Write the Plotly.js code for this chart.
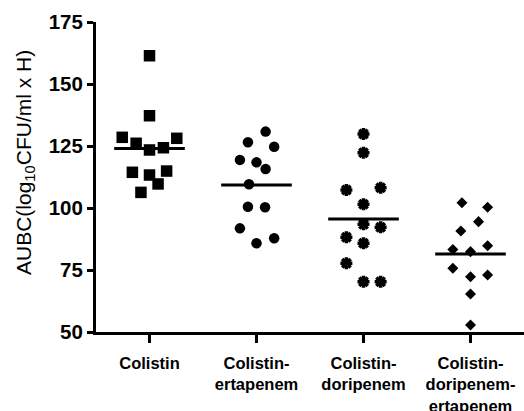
<!DOCTYPE html>
<html>
<head>
<meta charset="utf-8">
<script src="https://cdn.plot.ly/plotly-3.0.1.min.js"></script>
<style>html,body{margin:0;padding:0;background:#fff;}#chart{width:524px;height:411px;}</style>
</head>
<body>
<div id="chart"></div>
<script>
// Categories and tick labels
var categories = ["Colistin", "Colistin-ertapenem", "Colistin-doripenem", "Colistin-doripenem-ertapenem"];
var tickLabels = ["Colistin", "Colistin-<br>ertapenem", "Colistin-<br>doripenem", "Colistin-<br>doripenem-<br>ertapenem"];
var yTickValues = [50, 75, 100, 125, 150, 175];

// AUBC values per group (log10 CFU/ml x H)
var colistin = [161.4, 137.2, 128.5, 126.1, 123.4, 124.3, 128.1, 114.4, 113.3, 114.9, 109.7, 106.3];
var colistinErtapenem = [130.8, 126.5, 124.7, 119.4, 118.4, 115.7, 109.6, 100.5, 100.3, 91.8, 85.8, 87.8];
var colistinDoripenem = [129.8, 122.3, 107.3, 108.2, 101.5, 93.4, 92.2, 88.2, 85.8, 77.7, 70.3, 70.3];
var colistinDoripenemErtapenem = [102.1, 100.3, 94.5, 90.7, 84.8, 83.3, 82.4, 75.7, 72.3, 73.0, 65.3, 52.8];

// Horizontal scatter (beeswarm) offsets, in category units
var offColistin = [0, 0, -0.255, -0.125, 0, 0.13, 0.255, -0.16, 0, 0.16, 0.08, -0.08];
var offErtapenem = [0.085, -0.08, 0.165, -0.155, 0, 0.085, -0.07, -0.08, 0.08, -0.155, 0, 0.165];
var offDoripenem = [0, 0, -0.16, 0.16, 0, 0, 0.16, -0.16, 0, -0.16, 0, 0.16];
var offTriple = [-0.08, 0.16, 0.075, -0.09, 0.16, -0.165, 0, -0.165, 0, 0.16, 0, 0];

var groups = [colistin, colistinErtapenem, colistinDoripenem, colistinDoripenemErtapenem];
var offsets = [offColistin, offErtapenem, offDoripenem, offTriple];
var markerDefs = [
  {symbol: "square", size: 11.5, color: "#000"},
  {symbol: "circle", size: 10.5, color: "#000"},
  {symbol: "asterisk-open", size: 10, color: "#000", line: {color: "#000", width: 3.5}},
  {symbol: "diamond", size: 8.5, color: "#000"}
];

var traces = [];
groups.forEach(function (vals, i) {
  traces.push({
    type: "scatter", mode: "markers", name: categories[i],
    x: vals.map(function (v, j) { return i + offsets[i][j]; }),
    y: vals,
    marker: markerDefs[i],
    cliponaxis: false,
    hoverinfo: "y"
  });
  var mean = vals.reduce(function (a, b) { return a + b; }, 0) / vals.length;
  traces.push({
    type: "scatter", mode: "lines",
    x: [i - 0.33, i + 0.33], y: [mean, mean],
    line: {color: "#000", width: 3},
    hoverinfo: "skip", cliponaxis: false
  });
});

var fam = "Arial, 'Liberation Sans', sans-serif";
var layout = {
  width: 524, height: 411,
  margin: {l: 96, r: 0, t: 22, b: 79},
  paper_bgcolor: "#fff", plot_bgcolor: "#fff",
  showlegend: false,
  font: {family: fam, color: "#000"},
  xaxis: {
    range: [-0.5, 3.5], tickvals: [0, 1, 2, 3],
    ticktext: tickLabels.map(function (t) { return "<b>" + t.split("<br>").join("</b><br><b>") + "</b>"; }),
    showgrid: false, zeroline: false, showline: true, linecolor: "#000", linewidth: 3,
    ticks: "outside", ticklen: 8, tickwidth: 3, tickcolor: "#000",
    ticklabelstandoff: 6,
    tickfont: {size: 16.5, family: fam, color: "#000"},
    fixedrange: true
  },
  yaxis: {
    range: [50, 175], tickvals: yTickValues,
    ticktext: yTickValues.map(function (v) { return "<b>" + v + "</b>"; }),
    showgrid: false, zeroline: false, showline: true, linecolor: "#000", linewidth: 3,
    ticks: "outside", ticklen: 6, tickwidth: 3, tickcolor: "#000",
    tickfont: {size: 20.5, family: fam, color: "#000"},
    fixedrange: true
  },
  annotations: [{
    text: "AUBC(log<sub>10</sub>CFU/ml x H)",
    xref: "paper", yref: "paper",
    x: -71 / 428, y: (332 - 163) / 310,
    xanchor: "center", yanchor: "middle",
    textangle: -90, showarrow: false,
    font: {size: 21, family: fam, color: "#000"}
  }]
};

Plotly.newPlot("chart", traces, layout, {displayModeBar: false, staticPlot: true});
</script>
</body>
</html>
